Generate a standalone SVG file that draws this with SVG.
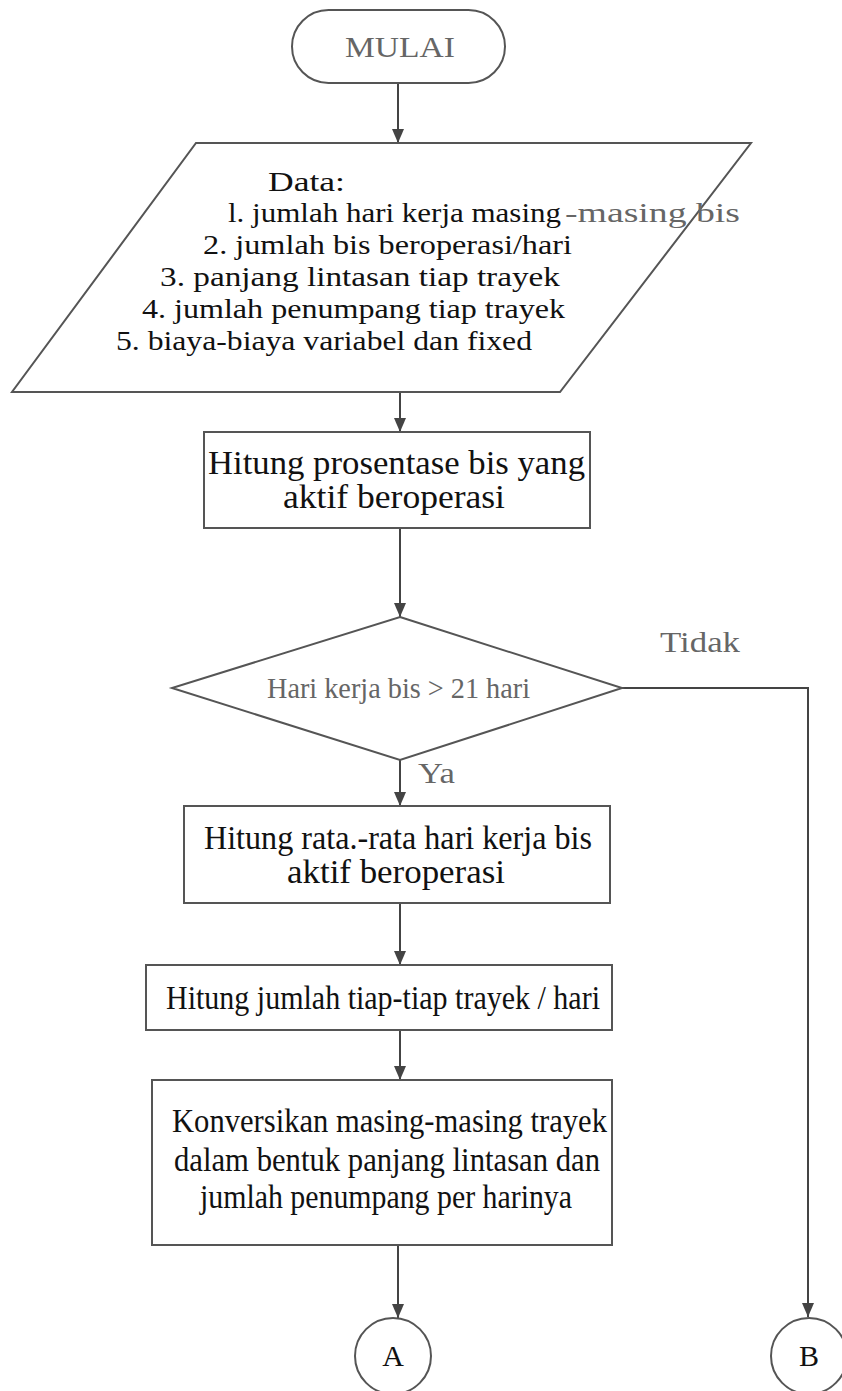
<svg xmlns="http://www.w3.org/2000/svg" width="842" height="1391" viewBox="0 0 842 1391">
<style>
  .shape { fill: #ffffff; stroke: #555555; stroke-width: 2; }
  .conn { fill: none; stroke: #444444; stroke-width: 2; }
  .t { font-family: "Liberation Serif", "Times New Roman", serif; font-size: 33px; fill: #111111; }
  .s { font-size: 30px; }
  .d { font-size: 28px; }
  .g { fill: #666666; }
</style>
<defs>
  <marker id="ah" viewBox="0 0 14 12" refX="14" refY="6" markerWidth="14" markerHeight="12" markerUnits="userSpaceOnUse" orient="auto">
    <path d="M0,0 L14,6 L0,12 Z" fill="#444444"/>
  </marker>
</defs>
<rect width="842" height="1391" fill="#ffffff"/>

<g id="connectors">
  <line class="conn" x1="398" y1="83" x2="398" y2="143" marker-end="url(#ah)"/>
  <line class="conn" x1="400" y1="392" x2="400" y2="432" marker-end="url(#ah)"/>
  <line class="conn" x1="400" y1="528" x2="400" y2="617" marker-end="url(#ah)"/>
  <line class="conn" x1="400" y1="760" x2="400" y2="806" marker-end="url(#ah)"/>
  <line class="conn" x1="400" y1="903" x2="400" y2="965" marker-end="url(#ah)"/>
  <line class="conn" x1="400" y1="1030" x2="400" y2="1080" marker-end="url(#ah)"/>
  <line class="conn" x1="398" y1="1245" x2="398" y2="1318" marker-end="url(#ah)"/>
  <polyline class="conn" points="622,688 808,688 808,1317" marker-end="url(#ah)"/>
  <text class="t s g" x="660" y="652" textLength="80" lengthAdjust="spacingAndGlyphs">Tidak</text>
  <text class="t s g" x="418" y="783" textLength="37" lengthAdjust="spacingAndGlyphs">Ya</text>
</g>

<g id="mulai">
  <rect class="shape" x="292" y="10" width="213" height="73" rx="36.5" ry="36.5"/>
  <text class="t s g" x="345" y="57" textLength="110" lengthAdjust="spacingAndGlyphs">MULAI</text>
</g>

<g id="data">
  <polygon class="shape" points="196,143 751,143 560,392 12,392"/>
  <text class="t d" x="268" y="191" textLength="77" lengthAdjust="spacingAndGlyphs">Data:</text>
  <text class="t d" x="228" y="222" textLength="333" lengthAdjust="spacingAndGlyphs">l. jumlah hari kerja masing</text>
  <text class="t d g" x="565" y="222" textLength="175" lengthAdjust="spacingAndGlyphs">-masing bis</text>
  <text class="t d" x="203" y="254" textLength="369" lengthAdjust="spacingAndGlyphs">2. jumlah bis beroperasi/hari</text>
  <text class="t d" x="160" y="286" textLength="400" lengthAdjust="spacingAndGlyphs">3. panjang lintasan tiap trayek</text>
  <text class="t d" x="142" y="318" textLength="423" lengthAdjust="spacingAndGlyphs">4. jumlah penumpang tiap trayek</text>
  <text class="t d" x="116" y="350" textLength="416" lengthAdjust="spacingAndGlyphs">5. biaya-biaya variabel dan fixed</text>
</g>

<g id="prosentase">
  <rect class="shape" x="204" y="432" width="386" height="96"/>
  <text class="t" x="208" y="474" textLength="377" lengthAdjust="spacingAndGlyphs">Hitung prosentase bis yang</text>
  <text class="t" x="283" y="508" textLength="222" lengthAdjust="spacingAndGlyphs">aktif beroperasi</text>
</g>

<g id="keputusan">
  <polygon class="shape" points="400,617 622,688 400,760 172,688"/>
  <text class="t s g" x="267" y="698" textLength="263" lengthAdjust="spacingAndGlyphs">Hari kerja bis &gt; 21 hari</text>
</g>

<g id="ratarata">
  <rect class="shape" x="184" y="806" width="426" height="97"/>
  <text class="t" x="204" y="849" textLength="388" lengthAdjust="spacingAndGlyphs">Hitung rata.-rata hari kerja bis</text>
  <text class="t" x="287" y="883" textLength="218" lengthAdjust="spacingAndGlyphs">aktif beroperasi</text>
</g>

<g id="jumlah">
  <rect class="shape" x="146" y="965" width="466" height="65"/>
  <text class="t" x="166" y="1009" textLength="434" lengthAdjust="spacingAndGlyphs">Hitung jumlah tiap-tiap trayek / hari</text>
</g>

<g id="konversi">
  <rect class="shape" x="152" y="1080" width="460" height="165"/>
  <text class="t" x="172" y="1132" textLength="435" lengthAdjust="spacingAndGlyphs">Konversikan masing-masing trayek</text>
  <text class="t" x="174" y="1171" textLength="426" lengthAdjust="spacingAndGlyphs">dalam bentuk panjang lintasan dan</text>
  <text class="t" x="200" y="1208" textLength="372" lengthAdjust="spacingAndGlyphs">jumlah penumpang per harinya</text>
</g>

<g id="konektorA">
  <circle class="shape" cx="393" cy="1356" r="38"/>
  <text class="t s" x="393" y="1366" text-anchor="middle">A</text>
</g>

<g id="konektorB">
  <circle class="shape" cx="809" cy="1356" r="38"/>
  <text class="t s" x="809" y="1366" text-anchor="middle">B</text>
</g>
</svg>
